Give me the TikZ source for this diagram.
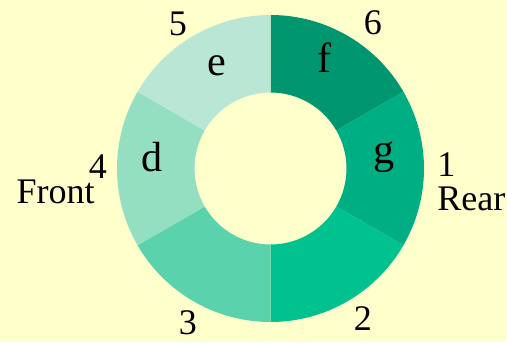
\documentclass[tikz,border=0pt]{standalone}
\usepackage{fontspec}
\setmainfont{Liberation Serif}
\usepackage{tikz}
\usetikzlibrary{positioning}
\definecolor{paper}{HTML}{FFFFCC}
\definecolor{segf}{HTML}{009670}
\definecolor{segg}{HTML}{00AE84}
\definecolor{segtwo}{HTML}{00C28F}
\definecolor{segthree}{HTML}{5AD3AC}
\definecolor{segd}{HTML}{94DEC2}
\definecolor{sege}{HTML}{BAE6D6}

\begin{document}
\begin{tikzpicture}[
  lbl/.style={font=\fontsize{20.5}{24}\selectfont, inner sep=0pt, anchor=base},
  seglbl/.style={font=\fontsize{24}{28}\selectfont, inner sep=0pt, anchor=base}
]
  % Background
  \fill[paper] (-5.41,-3.47) rectangle (4.73,3.37);
  \useasboundingbox (-5.41,-3.47) rectangle (4.73,3.37);

  % Ring segments
  \fill[segf] (90:1.52) -- (90:3.07) arc[start angle=90, end angle=30, radius=3.07] -- (30:1.52) arc[start angle=30, end angle=90, radius=1.52] -- cycle;
  \fill[segg] (30:1.52) -- (30:3.07) arc[start angle=30, end angle=-30, radius=3.07] -- (-30:1.52) arc[start angle=-30, end angle=30, radius=1.52] -- cycle;
  \fill[segtwo] (-30:1.52) -- (-30:3.07) arc[start angle=-30, end angle=-90, radius=3.07] -- (-90:1.52) arc[start angle=-90, end angle=-30, radius=1.52] -- cycle;
  \fill[segthree] (-90:1.52) -- (-90:3.07) arc[start angle=-90, end angle=-150, radius=3.07] -- (-150:1.52) arc[start angle=-150, end angle=-90, radius=1.52] -- cycle;
  \fill[segd] (210:1.52) -- (210:3.07) arc[start angle=210, end angle=150, radius=3.07] -- (150:1.52) arc[start angle=150, end angle=210, radius=1.52] -- cycle;
  \fill[sege] (150:1.52) -- (150:3.07) arc[start angle=150, end angle=90, radius=3.07] -- (90:1.52) arc[start angle=90, end angle=150, radius=1.52] -- cycle;

  % Segment letters
  \node[seglbl] (lete) at (-1.07, 1.85) {e};
  \node[seglbl] (letf) at (1.09, 1.91) {f};
  \node[seglbl] (letg) at (2.27, 0.11) {g};
  \node[seglbl] (letd) at (-2.37, -0.05) {d};

  % Numbers
  \node[lbl] (numfive) at (-1.85, 2.65) {5};
  \node[lbl] (numsix) at (2.05, 2.67) {6};
  \node[lbl] (numfour) at (-3.45, -0.19) {4};
  \node[lbl, anchor=base west] (numone) at (3.33, -0.15) {1};
  \node[lbl] (numtwo) at (1.85, -3.23) {2};
  \node[lbl] (numthree) at (-1.65, -3.32) {3};

  % Sides
  \node[lbl, anchor=base east] (front) at (-3.51, -0.69) {Front};
  \node[lbl, anchor=base west] (rear) at (3.33, -0.83) {Rear};

\end{tikzpicture}
\end{document}
